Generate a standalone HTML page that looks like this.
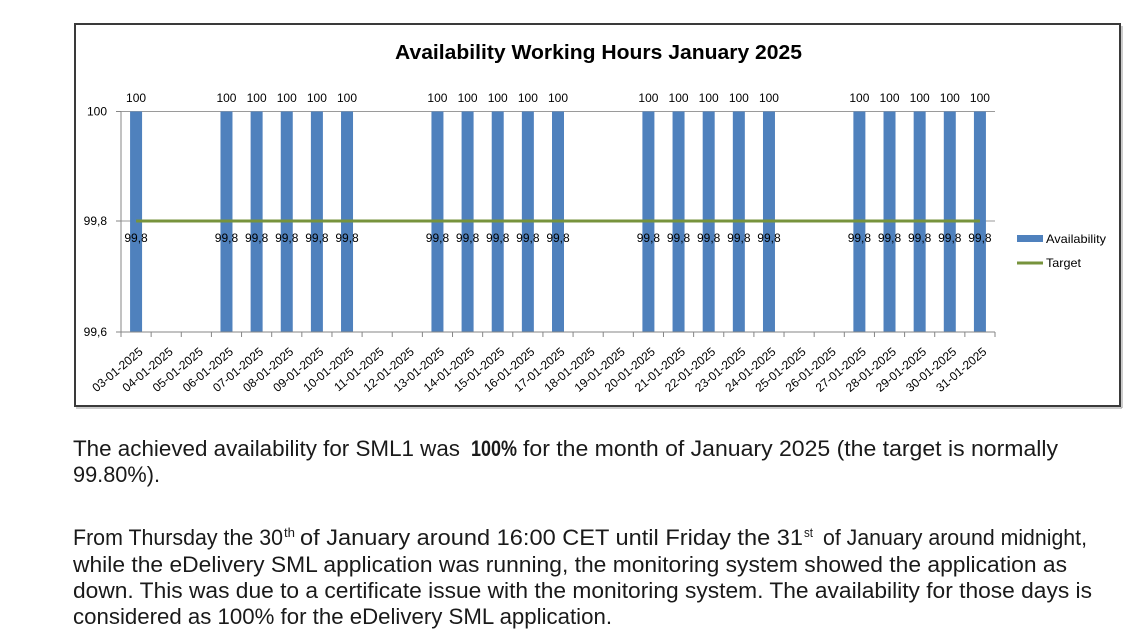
<!DOCTYPE html>
<html>
<head>
<meta charset="utf-8">
<style>
  html, body { margin:0; padding:0; background:#fff; }
  body { width:1127px; height:644px; overflow:hidden; }
  svg { display:block; }
  text { font-family: "Liberation Sans", Arial, sans-serif; }
</style>
</head>
<body>
<svg width="1127" height="644" viewBox="0 0 1127 644" xmlns="http://www.w3.org/2000/svg">
  <rect x="0" y="0" width="1127" height="644" fill="#ffffff"/>

  <!-- Chart frame -->
  <rect x="75" y="24" width="1045" height="382" fill="#ffffff" stroke="#3a3a3a" stroke-width="2"/>
  <line x1="76" y1="408" x2="1122" y2="408" stroke="#9a9a9a" stroke-width="1"/>
  <line x1="1122" y1="26" x2="1122" y2="408" stroke="#9a9a9a" stroke-width="1"/>

  <!-- Title -->
  <text x="598.5" y="59" font-size="20" font-weight="bold" text-anchor="middle" textLength="407" lengthAdjust="spacingAndGlyphs" fill="#000">Availability Working Hours January 2025</text>

  <!-- Gridlines -->
  <line x1="121" y1="111.5" x2="995" y2="111.5" stroke="#9a9a9a" stroke-width="1"/>
  <line x1="121" y1="221" x2="995" y2="221" stroke="#9a9a9a" stroke-width="1"/>

  <!-- Bars -->
  <g fill="#4F81BD">
    <rect x="130.07" y="111.5" width="12" height="220.5"/>
    <rect x="220.48" y="111.5" width="12" height="220.5"/>
    <rect x="250.62" y="111.5" width="12" height="220.5"/>
    <rect x="280.76" y="111.5" width="12" height="220.5"/>
    <rect x="310.90" y="111.5" width="12" height="220.5"/>
    <rect x="341.03" y="111.5" width="12" height="220.5"/>
    <rect x="431.45" y="111.5" width="12" height="220.5"/>
    <rect x="461.59" y="111.5" width="12" height="220.5"/>
    <rect x="491.72" y="111.5" width="12" height="220.5"/>
    <rect x="521.86" y="111.5" width="12" height="220.5"/>
    <rect x="552.00" y="111.5" width="12" height="220.5"/>
    <rect x="642.41" y="111.5" width="12" height="220.5"/>
    <rect x="672.55" y="111.5" width="12" height="220.5"/>
    <rect x="702.69" y="111.5" width="12" height="220.5"/>
    <rect x="732.83" y="111.5" width="12" height="220.5"/>
    <rect x="762.97" y="111.5" width="12" height="220.5"/>
    <rect x="853.38" y="111.5" width="12" height="220.5"/>
    <rect x="883.52" y="111.5" width="12" height="220.5"/>
    <rect x="913.66" y="111.5" width="12" height="220.5"/>
    <rect x="943.79" y="111.5" width="12" height="220.5"/>
    <rect x="973.93" y="111.5" width="12" height="220.5"/>
  </g>

  <!-- Target line -->
  <line x1="136.07" y1="221" x2="979.93" y2="221" stroke="#77933C" stroke-width="3"/>

  <!-- Axes -->
  <g stroke="#868686" stroke-width="1">
    <line x1="121" y1="111.5" x2="121" y2="332"/>
    <line x1="121" y1="332" x2="995" y2="332"/>
    <line x1="116" y1="111.5" x2="121" y2="111.5"/>
    <line x1="116" y1="221" x2="121" y2="221"/>
    <line x1="116" y1="332" x2="121" y2="332"/>
    <line x1="121" y1="332" x2="121" y2="337"/>
    <line x1="151.14" y1="332" x2="151.14" y2="337"/>
    <line x1="181.28" y1="332" x2="181.28" y2="337"/>
    <line x1="211.41" y1="332" x2="211.41" y2="337"/>
    <line x1="241.55" y1="332" x2="241.55" y2="337"/>
    <line x1="271.69" y1="332" x2="271.69" y2="337"/>
    <line x1="301.83" y1="332" x2="301.83" y2="337"/>
    <line x1="331.97" y1="332" x2="331.97" y2="337"/>
    <line x1="362.10" y1="332" x2="362.10" y2="337"/>
    <line x1="392.24" y1="332" x2="392.24" y2="337"/>
    <line x1="422.38" y1="332" x2="422.38" y2="337"/>
    <line x1="452.52" y1="332" x2="452.52" y2="337"/>
    <line x1="482.66" y1="332" x2="482.66" y2="337"/>
    <line x1="512.79" y1="332" x2="512.79" y2="337"/>
    <line x1="542.93" y1="332" x2="542.93" y2="337"/>
    <line x1="573.07" y1="332" x2="573.07" y2="337"/>
    <line x1="603.21" y1="332" x2="603.21" y2="337"/>
    <line x1="633.34" y1="332" x2="633.34" y2="337"/>
    <line x1="663.48" y1="332" x2="663.48" y2="337"/>
    <line x1="693.62" y1="332" x2="693.62" y2="337"/>
    <line x1="723.76" y1="332" x2="723.76" y2="337"/>
    <line x1="753.90" y1="332" x2="753.90" y2="337"/>
    <line x1="784.03" y1="332" x2="784.03" y2="337"/>
    <line x1="814.17" y1="332" x2="814.17" y2="337"/>
    <line x1="844.31" y1="332" x2="844.31" y2="337"/>
    <line x1="874.45" y1="332" x2="874.45" y2="337"/>
    <line x1="904.59" y1="332" x2="904.59" y2="337"/>
    <line x1="934.72" y1="332" x2="934.72" y2="337"/>
    <line x1="964.86" y1="332" x2="964.86" y2="337"/>
    <line x1="995" y1="332" x2="995" y2="337"/>
  </g>

  <!-- Y axis labels -->
  <g font-size="12" fill="#000" text-anchor="end">
    <text x="107" y="115.5">100</text>
    <text x="107" y="225">99,8</text>
    <text x="107" y="336">99,6</text>
  </g>

  <!-- Data labels 100 -->
  <g font-size="12" fill="#000" text-anchor="middle">
    <text x="136.07" y="102">100</text>
    <text x="226.48" y="102">100</text>
    <text x="256.62" y="102">100</text>
    <text x="286.76" y="102">100</text>
    <text x="316.90" y="102">100</text>
    <text x="347.03" y="102">100</text>
    <text x="437.45" y="102">100</text>
    <text x="467.59" y="102">100</text>
    <text x="497.72" y="102">100</text>
    <text x="527.86" y="102">100</text>
    <text x="558.00" y="102">100</text>
    <text x="648.41" y="102">100</text>
    <text x="678.55" y="102">100</text>
    <text x="708.69" y="102">100</text>
    <text x="738.83" y="102">100</text>
    <text x="768.97" y="102">100</text>
    <text x="859.38" y="102">100</text>
    <text x="889.52" y="102">100</text>
    <text x="919.66" y="102">100</text>
    <text x="949.79" y="102">100</text>
    <text x="979.93" y="102">100</text>
  </g>

  <!-- Data labels 99,8 -->
  <g font-size="12" fill="#000" text-anchor="middle">
    <text x="136.07" y="242">99,8</text>
    <text x="226.48" y="242">99,8</text>
    <text x="256.62" y="242">99,8</text>
    <text x="286.76" y="242">99,8</text>
    <text x="316.90" y="242">99,8</text>
    <text x="347.03" y="242">99,8</text>
    <text x="437.45" y="242">99,8</text>
    <text x="467.59" y="242">99,8</text>
    <text x="497.72" y="242">99,8</text>
    <text x="527.86" y="242">99,8</text>
    <text x="558.00" y="242">99,8</text>
    <text x="648.41" y="242">99,8</text>
    <text x="678.55" y="242">99,8</text>
    <text x="708.69" y="242">99,8</text>
    <text x="738.83" y="242">99,8</text>
    <text x="768.97" y="242">99,8</text>
    <text x="859.38" y="242">99,8</text>
    <text x="889.52" y="242">99,8</text>
    <text x="919.66" y="242">99,8</text>
    <text x="949.79" y="242">99,8</text>
    <text x="979.93" y="242">99,8</text>
  </g>

  <!-- X axis category labels -->
  <g font-size="12" fill="#000" text-anchor="end">
    <text transform="translate(143.57,353) rotate(-40)">03-01-2025</text>
    <text transform="translate(173.71,353) rotate(-40)">04-01-2025</text>
    <text transform="translate(203.85,353) rotate(-40)">05-01-2025</text>
    <text transform="translate(233.98,353) rotate(-40)">06-01-2025</text>
    <text transform="translate(264.12,353) rotate(-40)">07-01-2025</text>
    <text transform="translate(294.26,353) rotate(-40)">08-01-2025</text>
    <text transform="translate(324.40,353) rotate(-40)">09-01-2025</text>
    <text transform="translate(354.53,353) rotate(-40)">10-01-2025</text>
    <text transform="translate(384.67,353) rotate(-40)">11-01-2025</text>
    <text transform="translate(414.81,353) rotate(-40)">12-01-2025</text>
    <text transform="translate(444.95,353) rotate(-40)">13-01-2025</text>
    <text transform="translate(475.09,353) rotate(-40)">14-01-2025</text>
    <text transform="translate(505.22,353) rotate(-40)">15-01-2025</text>
    <text transform="translate(535.36,353) rotate(-40)">16-01-2025</text>
    <text transform="translate(565.50,353) rotate(-40)">17-01-2025</text>
    <text transform="translate(595.64,353) rotate(-40)">18-01-2025</text>
    <text transform="translate(625.78,353) rotate(-40)">19-01-2025</text>
    <text transform="translate(655.91,353) rotate(-40)">20-01-2025</text>
    <text transform="translate(686.05,353) rotate(-40)">21-01-2025</text>
    <text transform="translate(716.19,353) rotate(-40)">22-01-2025</text>
    <text transform="translate(746.33,353) rotate(-40)">23-01-2025</text>
    <text transform="translate(776.47,353) rotate(-40)">24-01-2025</text>
    <text transform="translate(806.60,353) rotate(-40)">25-01-2025</text>
    <text transform="translate(836.74,353) rotate(-40)">26-01-2025</text>
    <text transform="translate(866.88,353) rotate(-40)">27-01-2025</text>
    <text transform="translate(897.02,353) rotate(-40)">28-01-2025</text>
    <text transform="translate(927.16,353) rotate(-40)">29-01-2025</text>
    <text transform="translate(957.29,353) rotate(-40)">30-01-2025</text>
    <text transform="translate(987.43,353) rotate(-40)">31-01-2025</text>
  </g>

  <!-- Legend -->
  <rect x="1017" y="235" width="26" height="7" fill="#4F81BD"/>
  <text x="1046" y="243" font-size="12" fill="#000" textLength="60" lengthAdjust="spacingAndGlyphs">Availability</text>
  <line x1="1017" y1="263" x2="1043" y2="263" stroke="#77933C" stroke-width="3"/>
  <text x="1046" y="267" font-size="12" fill="#000" textLength="35" lengthAdjust="spacingAndGlyphs">Target</text>

  <!-- Paragraph text -->
  <g font-size="22" fill="#1a1a1a">
    <text x="73" y="456" textLength="387" lengthAdjust="spacingAndGlyphs">The achieved availability for SML1 was</text>
    <text x="471" y="456" font-weight="bold" textLength="46" lengthAdjust="spacingAndGlyphs">100%</text>
    <text x="523" y="456" textLength="535" lengthAdjust="spacingAndGlyphs">for the month of January 2025 (the target is normally</text>
    <text x="73" y="482" textLength="87" lengthAdjust="spacingAndGlyphs">99.80%).</text>

    <text x="73" y="545" textLength="210" lengthAdjust="spacingAndGlyphs">From Thursday the 30</text>
    <text x="284" y="537" font-size="13" textLength="11" lengthAdjust="spacingAndGlyphs">th</text>
    <text x="300" y="545" textLength="503" lengthAdjust="spacingAndGlyphs">of January around 16:00 CET until Friday the 31</text>
    <text x="804" y="537" font-size="13" textLength="9" lengthAdjust="spacingAndGlyphs">st</text>
    <text x="823" y="545" textLength="264" lengthAdjust="spacingAndGlyphs">of January around midnight,</text>

    <text x="73" y="572" textLength="994" lengthAdjust="spacingAndGlyphs">while the eDelivery SML application was running, the monitoring system showed the application as</text>
    <text x="73" y="598" textLength="1019" lengthAdjust="spacingAndGlyphs">down. This was due to a certificate issue with the monitoring system. The availability for those days is</text>
    <text x="73" y="624" textLength="539" lengthAdjust="spacingAndGlyphs">considered as 100% for the eDelivery SML application.</text>
  </g>
</svg>
</body>
</html>
